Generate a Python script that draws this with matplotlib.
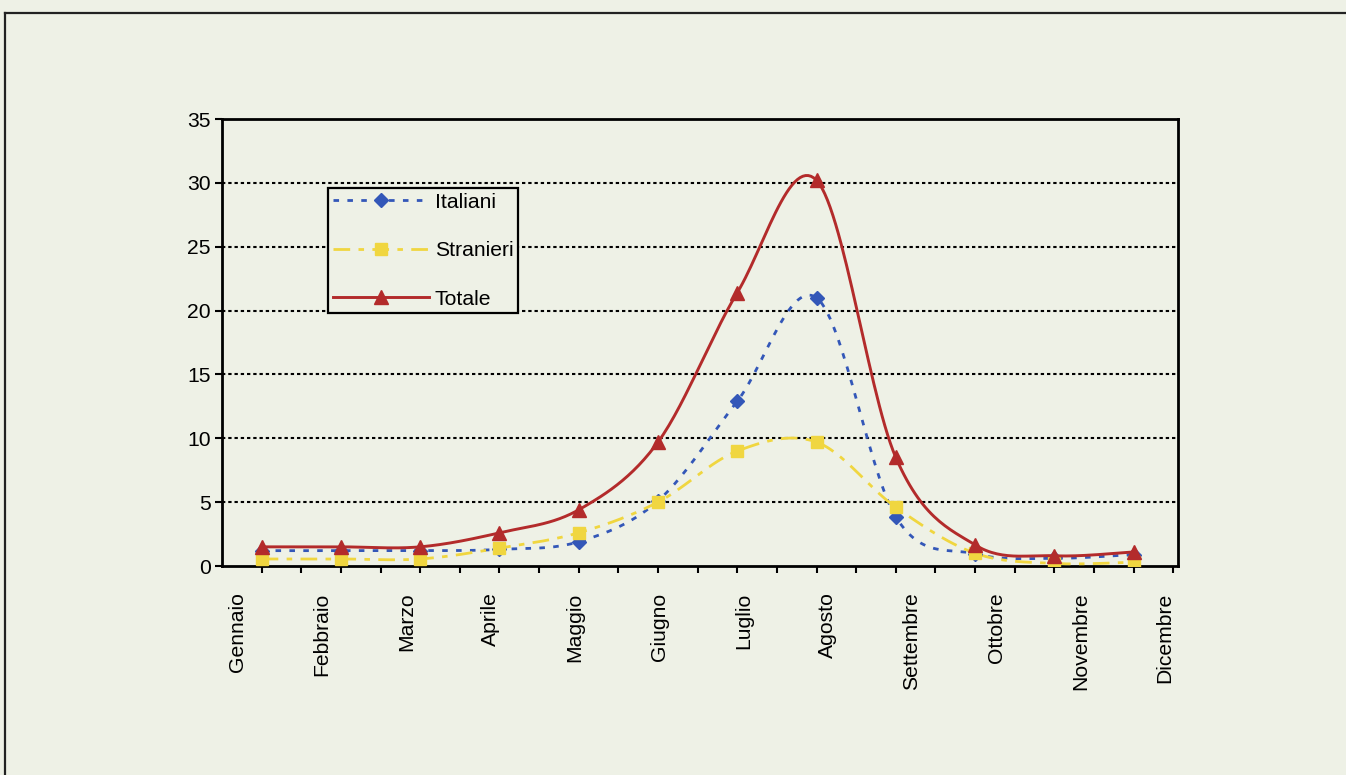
import numpy as np
import matplotlib
matplotlib.use("Agg")
import matplotlib.pyplot as plt
from matplotlib.lines import Line2D

plt.rcParams['font.family'] = ['Liberation Sans', 'DejaVu Sans']

# ---- data ----
mesi = ["Gennaio", "Febbraio", "Marzo", "Aprile", "Maggio", "Giugno",
        "Luglio", "Agosto", "Settembre", "Ottobre", "Novembre", "Dicembre"]
italiani = [1.2, 1.2, 1.2, 1.3, 1.9, 5.1, 12.9, 21.0, 3.85, 0.95, 0.6, 0.9]
stranieri = [0.55, 0.55, 0.55, 1.4, 2.6, 5.0, 9.0, 9.7, 4.6, 1.0, 0.2, 0.3]
totale = [1.5, 1.5, 1.5, 2.6, 4.4, 9.7, 21.4, 30.2, 8.5, 1.65, 0.8, 1.1]
y_ticks = [0, 5, 10, 15, 20, 25, 30, 35]

BG = '#eef1e6'
FS = 15.2


def smooth(x, y, n=30):
    """Excel-style smoothed line (Catmull-Rom Bezier)."""
    x = np.asarray(x, float)
    y = np.asarray(y, float)
    P = np.column_stack([x, y])
    Pext = np.vstack([P[0], P, P[-1]])
    out = []
    t = np.linspace(0, 1, n)[:, None]
    for i in range(len(P) - 1):
        p0, p1, p2, p3 = Pext[i], Pext[i + 1], Pext[i + 2], Pext[i + 3]
        b1 = p1 + (p2 - p0) / 6.0
        b2 = p2 - (p3 - p1) / 6.0
        seg = ((1 - t) ** 3) * p1 + 3 * ((1 - t) ** 2) * t * b1 + 3 * (1 - t) * t ** 2 * b2 + t ** 3 * p2
        out.append(seg if i == 0 else seg[1:])
    s = np.vstack(out)
    return s[:, 0], s[:, 1]


fig = plt.figure(figsize=(13.46, 7.75), dpi=100, facecolor=BG)
ax = fig.add_axes([222 / 1346, 1 - 566 / 775, (1178 - 222) / 1346, (566 - 119) / 775])
ax.set_facecolor(BG)

# outer frame of the scanned figure
fig.add_artist(Line2D([5 / 1346, 1.0], [1 - 13 / 775, 1 - 13 / 775],
                      transform=fig.transFigure, color='#222222', lw=1.6))
fig.add_artist(Line2D([5 / 1346, 5 / 1346], [0.0, 1 - 13 / 775],
                      transform=fig.transFigure, color='#222222', lw=1.6))

xpos = np.arange(len(mesi)) + 0.5

# gridlines
for yv in y_ticks[1:-1]:
    ax.axhline(yv, color='black', lw=1.5, linestyle=(0, (1.6, 1.4)), zorder=1)

c_it = '#3357b8'
c_st = '#f0d640'
c_to = '#b32b2b'

sx, sy = smooth(xpos, italiani)
ax.plot(sx, sy, color=c_it, lw=2.0, dashes=(2, 3), zorder=3)
ax.plot(xpos, italiani, linestyle='none', marker='D', ms=7, color=c_it, zorder=4)

sx, sy = smooth(xpos, stranieri)
ax.plot(sx, sy, color=c_st, lw=2.0, dashes=(6, 3, 2, 3), zorder=3)
ax.plot(xpos, stranieri, linestyle='none', marker='s', ms=8, color=c_st, zorder=4)

sx, sy = smooth(xpos, totale)
ax.plot(sx, sy, color=c_to, lw=2.1, zorder=5)
ax.plot(xpos, totale, linestyle='none', marker='^', ms=10, color=c_to, zorder=6)

ax.set_xlim(0, 12.06)
ax.set_ylim(0, 35)
ax.set_yticks(y_ticks)
ax.tick_params(axis='y', direction='out', length=5, width=1.5, pad=3, labelsize=FS)

# month labels (as placed in the original scan) + half-step tick marks
label_pos = 0.2 + 1.063 * np.arange(len(mesi))
ax.set_xticks(label_pos)
ax.set_xticklabels(mesi, rotation=90, fontsize=FS)
ax.tick_params(axis='x', which='major', length=0, pad=19)
ax.set_xticks(np.arange(0.5, 12.06, 0.5), minor=True)
ax.tick_params(axis='x', which='minor', direction='out', length=5, width=1.5)

for sp in ax.spines.values():
    sp.set_linewidth(2)
    sp.set_color('black')

handles = [
    Line2D([0, 0.5, 1], [0, 0, 0], color=c_it, lw=2.0, dashes=(2, 3), marker='D', ms=7, markevery=[1]),
    Line2D([0, 0.5, 1], [0, 0, 0], color=c_st, lw=2.0, dashes=(6, 3, 2, 3), marker='s', ms=8, markevery=[1]),
    Line2D([0, 0.5, 1], [0, 0, 0], color=c_to, lw=2.1, marker='^', ms=10, markevery=[1]),
]
leg = ax.legend(handles, ["Italiani", "Stranieri", "Totale"],
                loc='upper left', bbox_to_anchor=(328 / 1346, 1 - 188 / 775),
                bbox_transform=fig.transFigure, borderaxespad=0,
                fontsize=FS, frameon=True, fancybox=False,
                facecolor=BG, edgecolor='black', framealpha=1,
                handlelength=4.55, handletextpad=0.28, labelspacing=1.4,
                borderpad=0.22)
leg.get_frame().set_linewidth(1.6)
leg.set_zorder(10)

fig.savefig("out.png", dpi=100, facecolor=BG)
